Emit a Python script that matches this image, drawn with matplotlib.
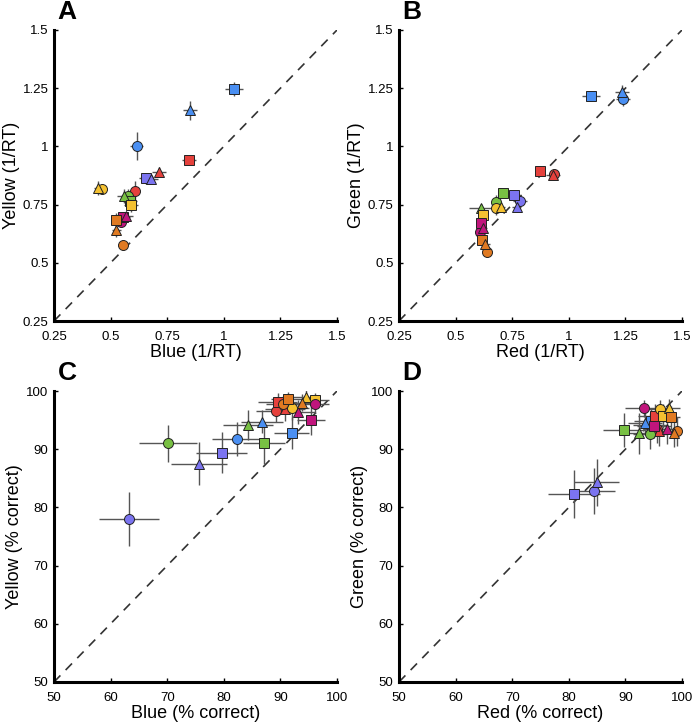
import numpy as np
import matplotlib
matplotlib.use("Agg")
import matplotlib.pyplot as plt

plt.rcParams['font.family'] = ['Liberation Sans Narrow', 'Liberation Sans', 'DejaVu Sans']

# colour groups, each with circle / square / triangle
couleurs = ["#4a8ff2", "#e5413c", "#78c043", "#f4c131", "#7b74f0", "#c0157c", "#e07a22"]
formes = ["o", "s", "^"]

# A : Blue vs Yellow (1/RT)
a_x = [0.615, 1.045, 0.85, 0.608, 0.846, 0.714, 0.575, 0.585, 0.56, 0.463, 0.59, 0.446,
       0.667, 0.655, 0.68, 0.545, 0.555, 0.567, 0.553, 0.524, 0.524]
a_y = [1.0, 1.245, 1.155, 0.81, 0.94, 0.89, 0.785, 0.765, 0.785, 0.817, 0.748, 0.822,
       0.86, 0.865, 0.86, 0.677, 0.695, 0.70, 0.575, 0.684, 0.64]
a_xerr = [0.03, 0.04, 0.03, 0.02, 0.03, 0.03, 0.03, 0.03, 0.03, 0.02, 0.03, 0.02,
          0.03, 0.03, 0.03, 0.02, 0.03, 0.03, 0.02, 0.02, 0.02]
a_yerr = [0.06, 0.03, 0.04, 0.04, 0.02, 0.02, 0.03, 0.03, 0.03, 0.02, 0.03, 0.03,
          0.02, 0.02, 0.02, 0.02, 0.02, 0.02, 0.02, 0.03, 0.03]

# B : Red vs Green (1/RT)
b_x = [1.24, 1.10, 1.235, 0.935, 0.872, 0.93, 0.68, 0.71, 0.61, 0.68, 0.62, 0.70,
       0.784, 0.76, 0.77, 0.607, 0.61, 0.62, 0.64, 0.615, 0.63]
b_y = [1.205, 1.216, 1.235, 0.88, 0.896, 0.875, 0.762, 0.80, 0.734, 0.734, 0.705, 0.74,
       0.767, 0.79, 0.738, 0.634, 0.67, 0.648, 0.545, 0.60, 0.58]
b_xerr = [0.03, 0.04, 0.03, 0.02, 0.02, 0.03, 0.02, 0.02, 0.05, 0.02, 0.02, 0.02,
          0.03, 0.02, 0.02, 0.02, 0.02, 0.02, 0.02, 0.02, 0.02]
b_yerr = [0.03, 0.02, 0.03, 0.02, 0.02, 0.02, 0.03, 0.02, 0.02, 0.03, 0.02, 0.02,
          0.02, 0.02, 0.02, 0.02, 0.03, 0.02, 0.02, 0.02, 0.02]

# C : Blue vs Yellow (% correct)
c_x = [82.4, 92.0, 86.8, 89.2, 89.5, 90.8, 70.2, 87.1, 84.3, 92.0, 96.1, 94.5,
       63.25, 79.6, 75.6, 96.1, 95.4, 93.1, 90.4, 91.4, 93.9]
c_y = [91.8, 92.8, 94.7, 96.6, 98.1, 96.9, 91.0, 91.0, 94.1, 97.1, 98.4, 98.9,
       78.0, 89.4, 87.5, 97.7, 95.0, 96.4, 97.7, 98.6, 98.0]
c_xerr = [4.4, 3.1, 3.7, 3.5, 3.5, 3.5, 5.1, 3.7, 4.4, 3.0, 2.5, 2.5,
          5.3, 4.5, 4.9, 2.5, 2.5, 3.0, 3.0, 3.0, 3.0]
c_yerr = [2.9, 2.7, 2.0, 2.0, 1.5, 2.0, 3.2, 3.5, 2.6, 2.0, 1.2, 1.2,
          4.6, 3.5, 3.7, 1.5, 2.5, 2.0, 1.5, 1.2, 1.5]

# D : Red vs Green (% correct)
d_x = [94.3, 94.5, 93.4, 95.6, 95.2, 96.0, 94.4, 89.8, 92.4, 96.2, 96.6, 97.7,
       84.5, 80.9, 84.9, 93.3, 95.0, 97.3, 99.2, 98.1, 98.6]
d_y = [94.2, 94.9, 94.5, 93.5, 95.7, 93.1, 92.6, 93.3, 92.7, 96.9, 95.7, 97.1,
       82.8, 82.3, 84.3, 97.0, 94.0, 93.4, 93.1, 95.5, 92.8]
d_xerr = [3.0, 3.0, 3.0, 2.5, 3.0, 2.5, 3.0, 3.8, 3.0, 2.0, 2.0, 2.0,
          3.6, 4.65, 4.0, 3.3, 3.0, 2.5, 1.5, 1.5, 1.5]
d_yerr = [2.0, 2.0, 2.0, 2.5, 2.0, 2.5, 2.5, 3.0, 3.5, 1.5, 2.0, 1.5,
          4.0, 4.2, 4.0, 1.5, 2.0, 2.5, 2.5, 2.0, 2.5]

rt_ticks = [0.25, 0.5, 0.75, 1, 1.25, 1.5]
rt_labels = ["0.25", "0.5", "0.75", "1", "1.25", "1.5"]
pc_ticks = [50, 60, 70, 80, 90, 100]

fig = plt.figure(figsize=(6.97, 7.26), dpi=100)

def panneau(pos, xs, ys, xerr, yerr, lim, ticks, labels, xlabel, ylabel, lettre):
    ax = fig.add_axes(pos)
    ax.plot(lim, lim, linestyle=(0, (5.5, 4.5)), color="#333333", lw=1.2, zorder=1)
    for i in range(len(xs)):
        ax.errorbar(xs[i], ys[i], xerr=xerr[i], yerr=yerr[i], fmt="none",
                    ecolor="#555555", elinewidth=1.0, capsize=0, zorder=2)
    for i in range(len(xs)):
        c = couleurs[i // 3]
        m = formes[i % 3]
        ms = {"o": 7.2, "s": 6.6, "^": 7.6}[m]
        ax.plot(xs[i], ys[i], marker=m, ms=ms, mfc=c, mec="#222222", mew=0.7,
                linestyle="none", zorder=3)
    ax.set_xlim(lim)
    ax.set_ylim(lim)
    ax.set_xticks(ticks)
    ax.set_yticks(ticks)
    ax.set_xticklabels(labels, fontsize=9.5)
    ax.set_yticklabels(labels, fontsize=9.5)
    ax.set_xlabel(xlabel, fontsize=13, labelpad=1)
    ax.set_ylabel(ylabel, fontsize=13, labelpad=2)
    for s in ["top", "right"]:
        ax.spines[s].set_visible(False)
    for s in ["left", "bottom"]:
        ax.spines[s].set_linewidth(2.2)
    ax.tick_params(direction="in", length=3, width=1)
    ax.tick_params(axis="x", pad=7)
    ax.tick_params(axis="y", pad=4)
    fig.text(pos[0] + 0.005, pos[1] + pos[3] + 0.008, lettre, fontsize=19,
             fontweight="bold", ha="left", va="bottom")
    return ax

w = 283 / 697
h = 291 / 726
panneau([54 / 697, 405 / 726, w, h], a_x, a_y, a_xerr, a_yerr, [0.25, 1.5],
        rt_ticks, rt_labels, "Blue (1/RT)", "Yellow (1/RT)", "A")
panneau([399 / 697, 405 / 726, w, h], b_x, b_y, b_xerr, b_yerr, [0.25, 1.5],
        rt_ticks, rt_labels, "Red (1/RT)", "Green (1/RT)", "B")
panneau([54 / 697, 44 / 726, w, h], c_x, c_y, c_xerr, c_yerr, [50, 100],
        pc_ticks, [str(t) for t in pc_ticks], "Blue (% correct)", "Yellow (% correct)", "C")
panneau([399 / 697, 44 / 726, w, h], d_x, d_y, d_xerr, d_yerr, [50, 100],
        pc_ticks, [str(t) for t in pc_ticks], "Red (% correct)", "Green (% correct)", "D")

fig.savefig("out.png", dpi=100)
